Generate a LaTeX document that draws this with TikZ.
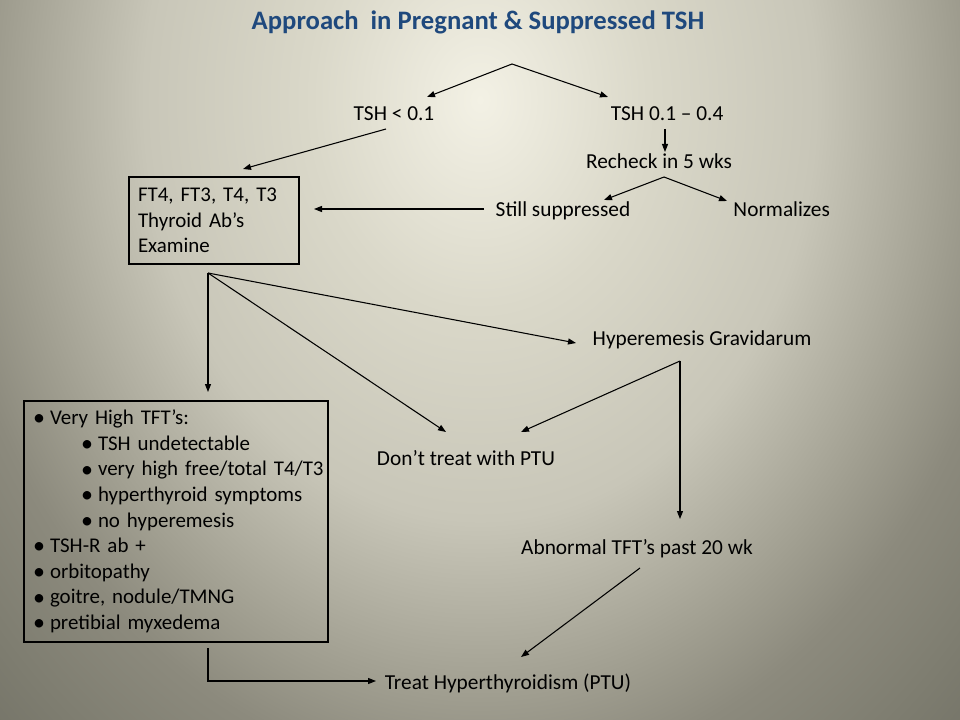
\documentclass[tikz,border=0pt]{standalone}
\usepackage{fontspec}
\setmainfont{Carlito}
\frenchspacing
\usetikzlibrary{positioning, arrows.meta}

\definecolor{titleblue}{RGB}{31,73,125}
\definecolor{bgzero}{RGB}{243,241,229}
\definecolor{bgone}{RGB}{218,216,201}
\definecolor{bgtwo}{RGB}{200,198,184}
\definecolor{bgthree}{RGB}{160,158,144}
\definecolor{bgfour}{RGB}{140,138,125}
\definecolor{bgfive}{RGB}{126,125,112}
\definecolor{bgsix}{RGB}{118,117,105}
\pgfdeclareradialshading{slideshade}{\pgfpoint{0bp}{0bp}}{color(0bp)=(bgzero); color(6bp)=(bgone); color(12bp)=(bgtwo); color(17bp)=(bgthree); color(19.5bp)=(bgfour); color(23bp)=(bgfive); color(25bp)=(bgsix); color(50bp)=(bgsix)}

\newcommand{\bulmark}{\raisebox{-0.8pt}{\fontsize{18}{19.2}\selectfont\textbullet}}
\newcommand{\bulline}[1]{\mbox{\makebox[16.5pt][c]{\bulmark}#1}}
\newcommand{\subbulline}[1]{\mbox{\hspace{36pt}\makebox[16.5pt][c]{\bulmark}#1}}

\begin{document}
\begin{tikzpicture}[
    x=0.75pt, y=-0.75pt, % one unit is one pixel of the slide
    node distance=2mm and 5mm,
    flowtext/.style={font=\fontsize{16}{19.2}\selectfont, inner sep=0pt, anchor=base},
    flowbox/.style={draw, line width=0.8pt, font=\fontsize{15.7}{19.2}\selectfont, align=left, inner ysep=0pt},
    titletext/.style={font=\fontsize{20}{24}\selectfont\bfseries, text=titleblue, inner sep=0pt, anchor=base},
    flowarrow/.style={-{Triangle[length=6pt, width=4.5pt]}, line width=0.8pt}
]

% Slide background
\begin{scope}
  \clip (0,0) rectangle (960,720);
  \shade[shading=slideshade] (480,100) ellipse (525pt and 656pt);
\end{scope}
\useasboundingbox (0,0) rectangle (960,720);

% Header text
\node (title) [titletext] at (478,30) {Approach\ \ in Pregnant \& Suppressed TSH};

% TSH levels
\node (tshlow) [flowtext] at (394,121) {TSH < 0.1};
\node (tshmid) [flowtext, right=132pt of tshlow.base east, anchor=base west] {TSH 0.1 – 0.4};
\node (recheck) [flowtext] at (659,168.5) {Recheck in 5 wks};
\node (still) [flowtext] at (563,217) {Still suppressed};
\node (norm) [flowtext, right=77pt of still.base east, anchor=base west] {Normalizes};

% Work-up box
\node (workup) [flowbox, minimum width=127.5pt, minimum height=65.25pt, text width=114pt, inner xsep=6.75pt] at (214,220.5)
  {FT4, FT3, T4, T3\\Thyroid Ab’s\\Examine};

% Outcomes
\node (hyper) [flowtext] at (702,345) {Hyperemesis Gravidarum};
\node (dont) [flowtext] at (466,465) {Don’t treat with PTU};
\node (abn) [flowtext] at (637,554.5) {Abnormal TFT’s past 20 wk};
\node (treat) [flowtext] at (508,689) {Treat Hyperthyroidism (PTU)};

% Criteria box
\node (criteria) [flowbox, minimum width=228pt, minimum height=180.75pt, text width=222pt, inner xsep=3pt] at (176,521.5)
  {\bulline{Very High TFT’s:}\\
   \subbulline{TSH undetectable}\\
   \subbulline{very high free/total T4/T3}\\
   \subbulline{hyperthyroid symptoms}\\
   \subbulline{no hyperemesis}\\
   \bulline{TSH-R ab +}\\
   \bulline{orbitopathy}\\
   \bulline{goitre, nodule/TMNG}\\
   \bulline{pretibial myxedema}};

% Junction points
\coordinate (split) at (512,64);
\coordinate (lowin) at (427,97);
\coordinate (midin) at (608,97);
\coordinate (lowout) at (386,129);
\coordinate (workupin) at (243,169);
\coordinate (midout) at (665,129);
\coordinate (recheckin) at (665,152);
\coordinate (split2) at (664,177);
\coordinate (stillin) at (604,200);
\coordinate (normin) at (727,201);
\coordinate (stillout) at (484,209);
\coordinate (workupside) at (314,209);
\coordinate (fork) at (208,273);
\coordinate (criteriain) at (208,392);
\coordinate (dontin) at (446,432);
\coordinate (hyperin) at (576,343);
\coordinate (hyperfork) at (680,361);
\coordinate (dontin2) at (521,432);
\coordinate (abnin) at (680,519);
\coordinate (abnout) at (640,568);
\coordinate (treatin) at (521,657);
\coordinate (criteriaout) at (208,648);
\coordinate (treatside) at (376,681);

% Arrows from TSH result
\draw[flowarrow] (split) -- (lowin);
\draw[flowarrow] (split) -- (midin);
\draw[flowarrow] (lowout) -- (workupin);
\draw[flowarrow] (midout) -- (recheckin);
\draw[flowarrow] (split2) -- (stillin);
\draw[flowarrow] (split2) -- (normin);
\draw[flowarrow] (stillout) -- (workupside);

% Arrows from work-up
\draw[flowarrow] (fork) -- (criteriain);
\draw[flowarrow] (fork) -- (dontin);
\draw[flowarrow] (fork) -- (hyperin);
\draw[flowarrow] (hyperfork) -- (dontin2);
\draw[flowarrow] (hyperfork) -- (abnin);
\draw[flowarrow] (abnout) -- (treatin);
\draw[flowarrow] (criteriaout) |- (treatside);

\end{tikzpicture}
\end{document}
